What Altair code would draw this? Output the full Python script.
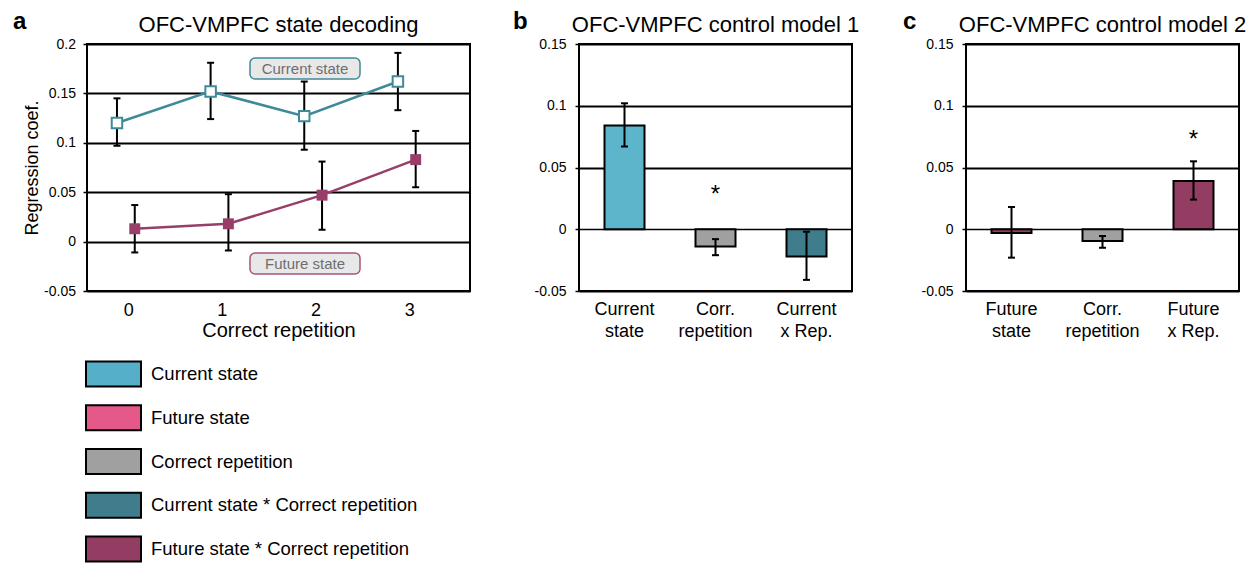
import altair as alt
import pandas as pd

FONT = "Liberation Sans"

# ---------------- data ----------------
# panel a : OFC-VMPFC state decoding
repetitions = [0, 1, 2, 3]
current_mean = [0.120, 0.152, 0.127, 0.162]
current_lo = [0.097, 0.124, 0.093, 0.133]
current_hi = [0.145, 0.181, 0.162, 0.191]
future_mean = [0.013, 0.018, 0.047, 0.083]
future_lo = [-0.011, -0.009, 0.012, 0.055]
future_hi = [0.037, 0.048, 0.081, 0.112]

# panel b : control model 1
b_labels = ["Current\nstate", "Corr.\nrepetition", "Current\nx Rep."]
b_mean = [0.084, -0.014, -0.022]
b_lo = [0.067, -0.021, -0.041]
b_hi = [0.102, -0.008, -0.002]
b_sig = [False, True, False]

# panel c : control model 2
c_labels = ["Future\nstate", "Corr.\nrepetition", "Future\nx Rep."]
c_mean = [-0.003, -0.0095, 0.039]
c_lo = [-0.023, -0.015, 0.024]
c_hi = [0.018, -0.0055, 0.055]
c_sig = [False, False, True]

# legend
legend_labels = ["Current state", "Future state", "Correct repetition",
                 "Current state * Correct repetition", "Future state * Correct repetition"]
legend_colors = ["#56AFC8", "#E4588A", "#A0A0A0", "#3F7D8C", "#943D62"]

bar_domain = ["Current\nstate", "Corr.\nrepetition", "Current\nx Rep.", "Future\nstate", "Future\nx Rep."]
bar_range = ["#5DB5CC", "#A0A0A0", "#3F7D8C", "#943D62", "#943D62"]

CUR_COL = "#3F8A99"
FUT_COL = "#973F68"

A_W, A_H = 383, 247
B_W, B_H = 273, 247

# ---------------- panel a ----------------
df_a = pd.DataFrame({
    "rep": repetitions * 2,
    "series": ["Current state"] * 4 + ["Future state"] * 4,
    "mean": current_mean + future_mean,
    "lo": current_lo + future_lo,
    "hi": current_hi + future_hi,
})

xa = alt.Scale(domain=[-0.44, 3.65], nice=False, zero=False)
ya = alt.Scale(domain=[-0.05, 0.2], nice=False, zero=False)

base_a = alt.Chart(df_a).transform_calculate(
    xpos="datum.rep + (datum.series == 'Current state' ? -0.12 : 0.07)"
)

x_axis_a = alt.Axis(values=[0, 1, 2, 3], labelExpr="'' + datum.value", labelFontSize=18,
                    labelFont=FONT, labelColor="black", ticks=False, tickSize=0, domain=False,
                    grid=False, labelPadding=10, title="Correct repetition", titleFontSize=20,
                    titleFont=FONT, titleFontWeight="normal", titleColor="black",
                    titleY=45, titleBaseline="alphabetic")
y_axis_a = alt.Axis(values=[-0.05, 0, 0.05, 0.1, 0.15, 0.2], labelExpr="'' + datum.value",
                    labelFontSize=14, labelFont=FONT, labelColor="black", tickSize=4, tickWidth=1.5,
                    tickColor="black", labelPadding=7.5, domain=False, grid=True, gridColor="black",
                    gridWidth=1.8, gridOpacity=1, title="Regression coef.", titleFontSize=18,
                    titleFont=FONT, titleFontWeight="normal", titleColor="black", titleAngle=270,
                    titleBaseline="bottom", titleAlign="center", titleX=-46, titleY=A_H / 2)

cur = base_a.transform_filter("datum.series == 'Current state'")
fut = base_a.transform_filter("datum.series == 'Future state'")

line_cur = cur.mark_line(color=CUR_COL, strokeWidth=2.5).encode(
    x=alt.X("xpos:Q", scale=xa, axis=x_axis_a),
    y=alt.Y("mean:Q", scale=ya, axis=y_axis_a),
)
line_fut = fut.mark_line(color=FUT_COL, strokeWidth=2.5).encode(
    x=alt.X("xpos:Q", scale=xa), y=alt.Y("mean:Q", scale=ya))
err_a = base_a.mark_rule(color="black", strokeWidth=2).encode(
    x=alt.X("xpos:Q", scale=xa), y=alt.Y("lo:Q", scale=ya), y2="hi:Q")
cap_lo_a = base_a.mark_rule(color="black", strokeWidth=2, xOffset=-3.5, x2Offset=3.5).encode(
    x=alt.X("xpos:Q", scale=xa), x2="xpos:Q", y=alt.Y("lo:Q", scale=ya))
cap_hi_a = base_a.mark_rule(color="black", strokeWidth=2, xOffset=-3.5, x2Offset=3.5).encode(
    x=alt.X("xpos:Q", scale=xa), x2="xpos:Q", y=alt.Y("hi:Q", scale=ya))
pts_cur = cur.mark_point(shape="square", filled=True, fill="white", stroke=CUR_COL,
                         strokeWidth=2, size=110, opacity=1).encode(
    x=alt.X("xpos:Q", scale=xa), y=alt.Y("mean:Q", scale=ya))
pts_fut = fut.mark_point(shape="square", filled=True, color=FUT_COL, size=120, opacity=1).encode(
    x=alt.X("xpos:Q", scale=xa), y=alt.Y("mean:Q", scale=ya))

box_df_cur = pd.DataFrame({"t": ["Current state"]})
box_df_fut = pd.DataFrame({"t": ["Future state"]})
box_cur = alt.Chart(box_df_cur).mark_rect(fill="#E8E8E8", stroke=CUR_COL, strokeWidth=1.5,
                                          cornerRadius=5).encode(
    x=alt.value(163), x2=alt.value(273), y=alt.value(14), y2=alt.value(35))
txt_cur = alt.Chart(box_df_cur).mark_text(font=FONT, fontSize=15, color="#6E6E6E",
                                          baseline="middle", align="center").encode(
    x=alt.value(218), y=alt.value(25), text="t:N")
box_fut = alt.Chart(box_df_fut).mark_rect(fill="#E8E8E8", stroke="#A8557C", strokeWidth=1.5,
                                          cornerRadius=5).encode(
    x=alt.value(163), x2=alt.value(273), y=alt.value(209), y2=alt.value(230))
txt_fut = alt.Chart(box_df_fut).mark_text(font=FONT, fontSize=15, color="#6E6E6E",
                                          baseline="middle", align="center").encode(
    x=alt.value(218), y=alt.value(220), text="t:N")


def frame(w, h):
    return alt.Chart(pd.DataFrame({"f": [0]})).mark_rect(
        filled=False, stroke="black", strokeWidth=2).encode(
        x=alt.value(0), x2=alt.value(w), y=alt.value(0), y2=alt.value(h))


def heading(title, letter, w, letter_x, letter_y):
    t = alt.Chart(pd.DataFrame({"t": [title]})).mark_text(
        font=FONT, fontSize=22, align="center", baseline="alphabetic", color="black").encode(
        x=alt.value(w / 2), y=alt.value(-12), text="t:N")
    l = alt.Chart(pd.DataFrame({"t": [letter]})).mark_text(
        font=FONT, fontSize=24, fontWeight="bold", align="left", baseline="alphabetic",
        color="black").encode(x=alt.value(letter_x), y=alt.value(letter_y), text="t:N")
    return t + l


panel_a = alt.layer(
    line_cur, line_fut, err_a, cap_lo_a, cap_hi_a, pts_cur, pts_fut,
    box_cur, txt_cur, box_fut, txt_fut, frame(A_W, A_H),
    heading("OFC-VMPFC state decoding", "a", A_W, -74, -15),
).properties(width=A_W, height=A_H)


# ---------------- panels b / c ----------------
def bar_panel(labels, mean, lo, hi, sig, title, letter, letter_x, letter_y, star_y):
    df = pd.DataFrame({"label": labels, "mean": mean, "lo": lo, "hi": hi, "sig": sig})
    ys = alt.Scale(domain=[-0.05, 0.15], nice=False, zero=False)
    xs = alt.Scale(paddingInner=0, paddingOuter=0)
    x_axis = alt.Axis(labelExpr="split(datum.label, '\\n')", labelFontSize=18, labelFont=FONT,
                      labelColor="black", labelLineHeight=22, labelAngle=0, ticks=False,
                      tickSize=0, domain=False, grid=False, labelPadding=9, title=None)
    y_axis = alt.Axis(values=[-0.05, 0, 0.05, 0.1, 0.15], labelExpr="'' + datum.value",
                      labelFontSize=14, labelFont=FONT, labelColor="black", tickSize=4,
                      tickWidth=1.5, tickColor="black", labelPadding=9, domain=False, grid=True,
                      gridColor="black", gridWidth={"expr": "datum.value == 0 ? 1.3 : 1.9"},
                      gridOpacity=1, title=None)
    base = alt.Chart(df)
    bars = base.mark_bar(size=40, stroke="black", strokeWidth=2).encode(
        x=alt.X("label:N", sort=labels, scale=xs, axis=x_axis, title=None),
        y=alt.Y("mean:Q", scale=ys, axis=y_axis, title=None),
        color=alt.Color("label:N", scale=alt.Scale(domain=bar_domain, range=bar_range),
                        legend=None),
    )
    err = base.mark_rule(color="black", strokeWidth=2).encode(
        x=alt.X("label:N", sort=labels, scale=xs), y=alt.Y("lo:Q", scale=ys), y2="hi:Q")
    cap_lo = base.mark_tick(color="black", thickness=2, size=7, opacity=1).encode(
        x=alt.X("label:N", sort=labels, scale=xs), y=alt.Y("lo:Q", scale=ys))
    cap_hi = base.mark_tick(color="black", thickness=2, size=7, opacity=1).encode(
        x=alt.X("label:N", sort=labels, scale=xs), y=alt.Y("hi:Q", scale=ys))
    star = base.transform_filter("datum.sig").transform_calculate(s="'*'").mark_text(
        font=FONT, fontSize=24, color="black", baseline="alphabetic", align="center").encode(
        x=alt.X("label:N", sort=labels, scale=xs), y=alt.value(star_y), text="s:N")
    return alt.layer(bars, err, cap_lo, cap_hi, star, frame(B_W, B_H),
                     heading(title, letter, B_W, letter_x, letter_y)).properties(
        width=B_W, height=B_H)


panel_b = bar_panel(b_labels, b_mean, b_lo, b_hi, b_sig, "OFC-VMPFC control model 1", "b",
                    -66, -15, 158)
panel_c = bar_panel(c_labels, c_mean, c_lo, c_hi, c_sig, "OFC-VMPFC control model 2", "c",
                    -63, -15, 103)

# ---------------- legend ----------------
df_leg = pd.DataFrame({"label": legend_labels, "row": list(range(len(legend_labels)))})
ly = alt.Scale(domain=[0, 4], range=[18, 193], nice=False, zero=False)
leg_base = alt.Chart(df_leg)
swatch = leg_base.mark_rect(stroke="black", strokeWidth=2, yOffset=-12.5, y2Offset=12.5).encode(
    x=alt.value(-1), x2=alt.value(54),
    y=alt.Y("row:Q", scale=ly, axis=None), y2="row:Q",
    fill=alt.Fill("label:N", scale=alt.Scale(domain=legend_labels, range=legend_colors),
                  legend=None),
)
leg_text = leg_base.mark_text(font=FONT, fontSize=18.5, align="left", baseline="middle",
                              color="black").encode(
    x=alt.value(64), y=alt.Y("row:Q", scale=ly, axis=None), text="label:N")
legend = alt.layer(swatch, leg_text).properties(width=A_W, height=195)

# ---------------- assemble ----------------
top = alt.hconcat(panel_a, alt.hconcat(panel_b, panel_c, spacing=114, bounds="flush"),
                  spacing=109, bounds="flush")
chart = alt.vconcat(top, legend, spacing=16).resolve_scale(
    color="independent", fill="independent"
).properties(
    padding={"left": 5, "top": 2, "right": 0, "bottom": 0}
).configure(font=FONT).configure_view(strokeWidth=0)

chart.save("out.html", embed_options={"renderer": "svg", "actions": False})
